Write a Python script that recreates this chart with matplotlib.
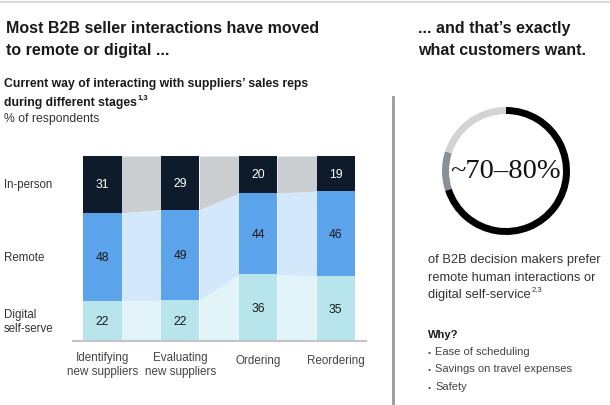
import matplotlib
matplotlib.use("Agg")
import matplotlib.pyplot as plt
import numpy as np

plt.rcParams['font.family'] = ['Liberation Sans', 'DejaVu Sans']

# ---- data ----
stages = ["Identifying\nnew suppliers", "Evaluating\nnew suppliers", "Ordering", "Reordering"]
digital = [22, 22, 36, 35]
remote = [48, 49, 44, 46]
in_person = [31, 29, 20, 19]
series_names = ["Digital\nself-serve", "Remote", "In-person"]
donut_values = [70, 10, 20]
donut_label = "~70–80%"
why_items = ["Ease of scheduling", "Savings on travel expenses", "Safety"]

# ---- style ----
c_bar = ["#b8e4ec", "#5ba3ea", "#0d1b2a"]
c_con = ["#e2f4f8", "#d3e9fb", "#cbced1"]
c_lbl = ["#1a1a1a", "#1a1a1a", "#ffffff"]

W, H = 610, 406
fig = plt.figure(figsize=(W / 100, H / 100), dpi=100)
fig.patch.set_facecolor("white")

def T(x, y, s, **kw):
    return fig.text(x / W, 1 - y / H, s, **kw)

def sup(txt, s, size, **kw):
    fig.add_artist(matplotlib.text.Annotation(s, xy=(1, 1), xycoords=txt, xytext=(0.5, 2.5),
                                              textcoords="offset pixels", fontsize=size,
                                              ha="left", va="top", **kw))

# top rule and divider
fig.add_artist(plt.Line2D([0, 1], [1 - 3 / H, 1 - 3 / H], color="#d9d9d9", lw=1.5))
fig.add_artist(plt.Line2D([393 / W, 393 / W], [1 - 98 / H, 0], color="#999999", lw=2))

# titles
T(6, 33, "Most B2B seller interactions have moved", fontsize=11.5, fontweight="bold", color="#1a1a1a", va="baseline")
T(6, 55, "to remote or digital ...", fontsize=11.5, fontweight="bold", color="#1a1a1a", va="baseline")
T(418, 33, "... and that’s exactly", fontsize=11.5, fontweight="bold", color="#1a1a1a", va="baseline")
T(418, 55, "what customers want.", fontsize=11.5, fontweight="bold", color="#1a1a1a", va="baseline")

T(4, 87, "Current way of interacting with suppliers’ sales reps", fontsize=8.8, fontweight="bold", color="#1a1a1a", va="baseline")
t_sub = T(4, 106, "during different stages", fontsize=8.8, fontweight="bold", color="#1a1a1a", va="baseline")
sup(t_sub, "1,3", 5.5, fontweight="bold", color="#1a1a1a")
T(4, 122, "% of respondents", fontsize=8.8, color="#333333", va="baseline")

# ---- bar chart ----
ax = fig.add_axes([73 / W, 1 - 342 / H, 293 / W, 185 / H])
x = np.arange(len(stages))
w = 0.49
layers = [np.array(v, dtype=float) for v in (digital, remote, in_person)]
totals = sum(layers)
bottoms = np.zeros(len(stages))
cums = []
for i, vals in enumerate(layers):
    share = vals / totals * 100
    ax.bar(x, share, bottom=bottoms, width=w, color=c_bar[i], zorder=3)
    for xi, v, s_, b in zip(x, vals, share, bottoms):
        ax.text(xi, b + s_ / 2, f"{int(v)}", ha="center", va="center", fontsize=8.7, color=c_lbl[i], zorder=4)
    cums.append((bottoms.copy(), bottoms + share))
    bottoms = bottoms + share

for i in range(len(stages) - 1):
    xs = [x[i] + w / 2, x[i + 1] - w / 2]
    for j, (lo, hi) in enumerate(cums):
        ax.fill_between(xs, [lo[i], lo[i + 1]], [hi[i], hi[i + 1]], color=c_con[j], lw=0, zorder=2)

ax.set_xlim(-0.38, 3.39)
ax.set_ylim(0, 100)
for s in ax.spines.values():
    s.set_visible(False)
ax.axhline(0, color="#c4c4c4", lw=1.5, zorder=5, clip_on=False)
ax.set_xticks([])
ax.set_yticks([])
for xi, lab in zip(x, stages):
    off = -23 if "\n" in lab else -19
    ax.annotate(lab, xy=(xi, 0), xytext=(0, off), textcoords="offset pixels", ha="center", va="center",
                fontsize=8.4, color="#444444", linespacing=1.15, annotation_clip=False)

# row labels aligned to first bar's segments
first_centers = [(lo[0] + hi[0]) / 2 for lo, hi in cums]
for name, yc in zip(series_names, first_centers):
    ax.text(-0.38 - 69 / 77.7, yc, name, ha="left", va="center", fontsize=8.3, color="#333333",
            linespacing=1.15, clip_on=False)

# ---- donut ----
cx, cy, R = 506, 172, 64
half = 72
dax = fig.add_axes([(cx - half) / W, 1 - (cy + half) / H, 2 * half / W, 2 * half / H])
dax.pie(donut_values, colors=["#000000", "#8a9196", "#d3d3d3"], startangle=90, counterclock=False,
        radius=1, wedgeprops=dict(width=7 / R, linewidth=0))
dax.set_xlim(-half / R, half / R)
dax.set_ylim(-half / R, half / R)
dax.set_aspect("equal")
dax.axis("off")
dax.text(0, 0, donut_label, ha="center", va="center", fontsize=20.5, family="Liberation Serif", color="#111111")

# ---- right text ----
T(428, 263, "of B2B decision makers prefer", fontsize=9.3, color="#333333", va="baseline")
T(428, 281, "remote human interactions or", fontsize=9.3, color="#333333", va="baseline")
t_ds = T(428, 298, "digital self-service", fontsize=9.3, color="#333333", va="baseline")
sup(t_ds, "2,3", 5.5, color="#333333")

T(428, 338, "Why?", fontsize=8, fontweight="bold", color="#1a1a1a", va="baseline")
for k, item in enumerate(why_items):
    yy = 355 + 17.5 * k
    T(428, yy, "•", fontsize=6, color="#444444", va="baseline")
    T(435, yy, item, fontsize=8, color="#444444", va="baseline")

fig.savefig("out.png", dpi=100, facecolor="white")
